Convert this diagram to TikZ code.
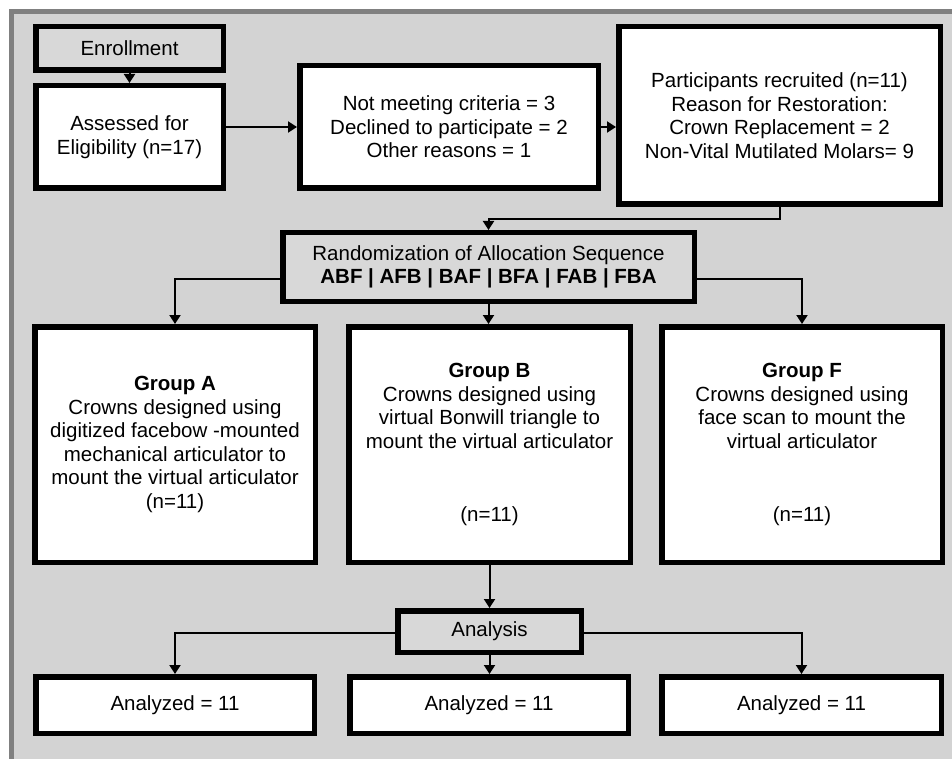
\documentclass[tikz,border=0pt]{standalone}
\usepackage{fontspec}
\setmainfont{Liberation Sans}
\usetikzlibrary{arrows.meta,calc}
\definecolor{panel}{RGB}{211,211,211}
\definecolor{frame}{RGB}{128,128,128}
\definecolor{hdfill}{RGB}{216,216,216}
\tikzset{
  blk/.style={draw=black,line width=5.5pt,fill=white,inner sep=0pt,
    align=center,font=\fontsize{20.5}{23.5}\selectfont},
  hdr/.style={blk,fill=hdfill},
  wh/.style 2 args={minimum width=#1pt-5.5pt,minimum height=#2pt-5.5pt},
  ar/.style={-{Triangle[length=9pt,width=11pt]},line width=2pt},
}

\begin{document}
\begin{tikzpicture}[x=1pt,y=-1pt]
  \useasboundingbox (0,0) rectangle (952,759);
  \clip (0,0) rectangle (952,759);
  % grey panel
  \draw[frame,fill=panel,line width=5pt] (11.5,11.5) rectangle (990,800);
  % enrollment row
  \node[hdr,wh={193}{49}]   (enrol)  at (129.5,48.5) {Enrollment};
  \node[blk,wh={193}{108}]  (assess) at (129.5,137)  {Assessed for\\Eligibility (n=17)};
  \node[blk,wh={304}{128}]  (excl)   at (449,127)    {Not meeting criteria = 3\\Declined to participate = 2\\Other reasons = 1};
  \node[blk,wh={327}{183}]  (recr)   at (779.5,115.5)
     {Participants recruited (n=11)\\Reason for Restoration:\\Crown Replacement = 2\\Non-Vital Mutilated Molars= 9};
  % allocation
  \node[hdr,wh={417}{74}]   (rand)   at (488.5,267)
     {Randomization of Allocation Sequence\\\textbf{ABF | AFB | BAF | BFA | FAB | FBA}};
  % the three groups
  \node[blk,wh={286}{241}]  (grpA)   at (175,444.5)
     {\textbf{Group A}\\Crowns designed using\\digitized facebow -mounted\\mechanical articulator to\\mount the virtual articulator\\(n=11)};
  \node[blk,wh={287}{241}]  (grpB)   at (489.5,444.5)
     {\textbf{Group B}\\Crowns designed using\\virtual Bonwill triangle to\\mount the virtual articulator\\[49.5pt](n=11)};
  \node[blk,wh={286}{241}]  (grpF)   at (802,444.5)
     {\textbf{Group F}\\Crowns designed using\\face scan to mount the\\virtual articulator\\[49.5pt](n=11)};
  % analysis
  \node[hdr,wh={189}{47}]   (anal)   at (489.5,631.5) {Analysis};
  \node[blk,wh={284}{62}]   (resA)   at (175,705)     {Analyzed = 11};
  \node[blk,wh={284}{62}]   (resB)   at (489,705)     {Analyzed = 11};
  \node[blk,wh={285}{62}]   (resF)   at (801.5,705)   {Analyzed = 11};
  % connectors
  \draw[ar] (enrol) -- (assess);
  \draw[ar] (assess.east |- excl) -- (excl.west);
  \draw[ar] (excl.east) -- (excl.east -| recr.west);
  \draw[ar] (recr.south) -- ++(0,12) -| (rand.north);
  \draw[ar] ([yshift=-12pt]rand.west) -| (grpA.north);
  \draw[ar] ([yshift=-12pt]rand.east) -| (grpF.north);
  \draw[ar] (rand.south) -- (rand.south |- grpB.north);
  \draw[ar] (grpB.south) -- (anal.north);
  \draw[ar] ([yshift=-1.5pt]anal.west) -| (resA.north);
  \draw[ar] ([yshift=-1.5pt]anal.east) -| (resF.north);
  \draw[ar] (anal.south) -- (anal.south |- resB.north);
\end{tikzpicture}
\end{document}
